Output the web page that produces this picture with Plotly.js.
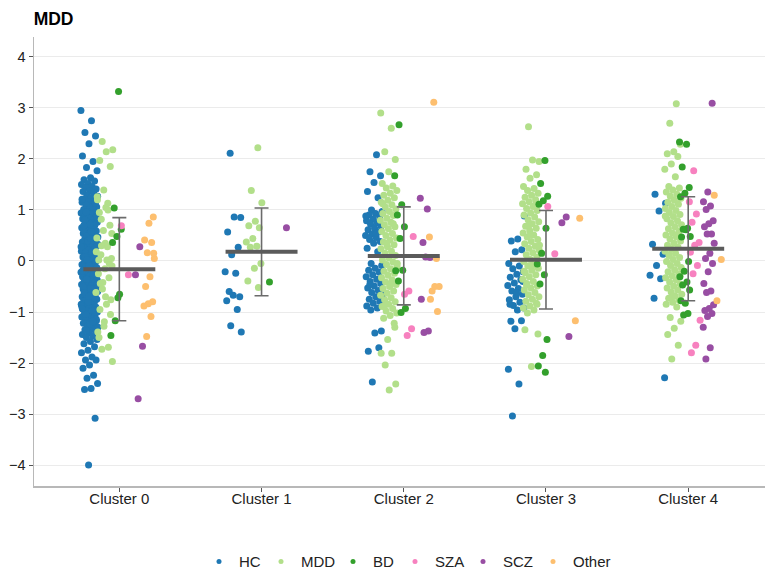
<!DOCTYPE html>
<html>
<head>
<meta charset="utf-8">
<script src="https://cdn.plot.ly/plotly-3.0.1.min.js"></script>
<style>html,body{margin:0;padding:0;background:#fff;}#chart{width:765px;height:575px;}</style>
</head>
<body>
<div id="chart"></div>
<script>
// ---------------- data ----------------
const clusters = ['Cluster 0', 'Cluster 1', 'Cluster 2', 'Cluster 3', 'Cluster 4'];
const groups = ['HC', 'MDD', 'BD', 'SZA', 'SCZ', 'Other'];

// Values per cluster (index 0..4) for each diagnostic group
const HC = [
  [2.95,2.75,2.52,2.45,2.30,2.06,1.95,1.83,1.77,1.63,1.59,1.57,1.52,1.50,1.46,1.44,1.41,1.37,1.36,1.33,1.29,1.27,1.24,1.22,1.19,1.16,1.15,1.11,1.09,1.06,1.04,1.01,0.99,0.97,0.94,0.92,0.89,0.88,0.85,0.83,0.80,0.79,0.76,0.74,0.71,0.70,0.67,0.65,0.63,0.60,0.59,0.56,0.54,0.51,0.50,0.47,0.45,0.43,0.41,0.38,0.37,0.34,0.32,0.30,0.27,0.26,0.23,0.21,0.19,0.17,0.15,0.12,0.11,0.08,0.06,0.05,0.02,0.00,-0.02,-0.03,-0.06,-0.07,-0.10,-0.11,-0.13,-0.15,-0.17,-0.18,-0.21,-0.22,-0.24,-0.26,-0.27,-0.30,-0.31,-0.33,-0.35,-0.37,-0.38,-0.41,-0.42,-0.44,-0.46,-0.48,-0.49,-0.52,-0.53,-0.55,-0.57,-0.59,-0.60,-0.63,-0.64,-0.66,-0.68,-0.70,-0.71,-0.74,-0.75,-0.77,-0.79,-0.81,-0.83,-0.85,-0.86,-0.89,-0.90,-0.92,-0.94,-0.96,-0.98,-1.00,-1.02,-1.04,-1.06,-1.09,-1.10,-1.13,-1.15,-1.17,-1.20,-1.22,-1.25,-1.27,-1.30,-1.33,-1.35,-1.38,-1.41,-1.44,-1.47,-1.50,-1.54,-1.58,-1.62,-1.68,-1.75,-1.80,-1.88,-1.94,-1.94,-2.04,-2.10,-2.24,-2.30,-2.40,-2.50,-2.52,-3.08,-4.00,
   1.21,1.07,0.96,0.86,0.72,0.61,0.49,0.39,0.28,0.18,0.09,-0.01,-0.09,-0.19,-0.28,-0.36,-0.45,-0.54,-0.62,-0.72,-0.80,-0.88,-0.97,-1.05,-1.14,-1.24,-0.50,-0.25,0.03,0.33,0.58,0.81,1.13,-0.69,-0.93,-1.18,-1.36,-0.14,0.44,0.69],
  [2.11,0.85,0.86,0.57,0.27,0.12,-0.21,-0.24,-0.60,-0.70,-0.67,-0.78,-0.95,-1.27,-1.39],
  [2.08,1.75,1.67,1.54,1.36,1.24,1.00,0.97,0.93,0.90,0.86,0.82,0.79,0.75,0.72,0.68,0.64,0.61,0.57,0.53,0.50,0.46,0.42,0.38,0.35,0.25,0.18,-0.05,-0.09,-0.14,-0.18,-0.22,-0.27,-0.31,-0.36,-0.40,-0.44,-0.49,-0.53,-0.58,-0.62,-0.66,-0.70,-0.75,-0.79,-0.83,-0.88,-0.92,-0.96,-1.37,-1.41,-1.77,-1.70,-2.37,0.88,0.55,-0.46,-0.72],
  [0.88,0.43,0.39,0.22,0.18,-0.05,-0.10,-0.15,-0.21,-0.26,-0.32,-0.37,-0.43,-0.48,-0.54,-0.59,-0.65,-0.70,-0.76,-0.81,-0.87,-0.92,-0.96,-1.18,-1.17,-1.33,-2.12,-2.41,-3.04,-0.40,-0.62,-0.85],
  [1.31,1.13,0.98,0.33,0.13,-0.09,-0.28,-0.35,-0.73,-2.29]
];
const MDD = [
  [2.34,2.18,2.14,1.97,1.85,1.39,1.26,1.13,0.82,0.54,0.35,0.02,-0.05,-0.42,0.18,0.02,-0.44,-0.76,-1.19,-1.39,-1.69,-1.73,-1.97,1.05,0.95,0.70,0.60,0.45,0.28,0.12,0.05,-0.15,-0.25,-0.33,-0.55,-0.62,-0.85,-0.95,-1.05,-1.28,1.20,1.00,0.30,-0.10,-0.70,-1.50],
  [2.22,1.38,1.14,0.78,0.69,0.65,0.44,0.37,0.29,0.27,-0.05,-0.14,-0.39,-0.52],
  [2.90,2.60,2.14,1.99,1.75,1.52,1.47,1.43,1.38,1.33,1.29,1.24,1.19,1.15,1.10,1.06,1.02,0.97,0.93,0.89,0.84,0.80,0.76,0.71,0.67,0.63,0.58,0.54,0.50,0.45,0.41,0.37,0.32,0.28,0.24,0.19,0.15,0.11,0.06,0.02,-0.02,-0.07,-0.11,-0.15,-0.20,-0.24,-0.28,-0.33,-0.37,-0.41,-0.46,-0.50,-0.54,-0.59,-0.63,-0.67,-0.72,-0.76,-0.80,-0.85,-0.89,-0.93,-0.98,-1.02,-1.07,-1.12,-1.22,-1.54,-1.81,-1.81,-2.04,-2.41,-2.53,1.12,0.73,0.35,-0.05,-0.45,-0.88,-1.30],
  [2.63,1.95,1.98,1.80,1.69,1.62,1.46,1.42,1.38,1.33,1.29,1.25,1.20,1.16,1.12,1.07,1.03,0.99,0.94,0.90,0.86,0.81,0.77,0.73,0.68,0.64,0.60,0.55,0.51,0.47,0.42,0.38,0.34,0.29,0.25,0.21,0.16,0.12,0.08,0.03,-0.01,-0.05,-0.10,-0.14,-0.18,-0.23,-0.27,-0.31,-0.36,-0.40,-0.44,-0.49,-0.53,-0.57,-0.62,-0.66,-0.70,-0.75,-0.79,-0.83,-0.88,-0.92,-0.96,-1.02,-1.43,-2.07,-1.35,1.10,0.70,0.31,-0.08,-0.47,-0.85,0.52,-0.20],
  [3.08,2.70,2.29,2.14,2.10,2.05,1.90,1.80,1.65,1.46,1.43,1.39,1.35,1.31,1.27,1.23,1.19,1.15,1.11,1.07,1.03,0.99,0.95,0.91,0.87,0.83,0.79,0.75,0.71,0.67,0.63,0.59,0.55,0.51,0.47,0.43,0.39,0.35,0.31,0.27,0.23,0.19,0.15,0.11,0.07,0.03,-0.01,-0.05,-0.09,-0.13,-0.17,-0.21,-0.25,-0.29,-0.33,-0.37,-0.41,-0.45,-0.49,-0.53,-0.57,-0.61,-0.65,-0.69,-0.73,-0.77,-0.81,-0.85,-0.90,-1.11,-1.18,-1.32,-1.44,-1.65,-1.92,0.88,0.50,0.12,-0.30,-0.68]
];
const BD = [
  [3.32,1.04,0.62,0.48,0.36,-0.65,-1.17,-1.46,-0.72],
  [-0.41],
  [2.67,1.67,1.10,0.90,0.67,0.44,-0.19,-0.18,-0.39,-0.93,-1.01],
  [1.97,1.52,1.27,1.18,1.11,0.64,0.15,-0.06,-0.27,-0.45,-1.54,-1.85,-2.06,-2.18],
  [2.33,2.29,1.84,1.44,1.33,1.26,0.64,0.62,0.48,0.61,0.47,-0.01,-0.20,-0.31,-0.41,-0.47,-0.57,-0.83,-0.78,-1.03,-1.06]
];
const SZA = [
  [0.69,-0.27],
  [],
  [0.48,-0.59,-0.65,-1.33,-1.46],
  [1.07,0.14],
  [1.77,1.16,0.92,0.76,0.36,0.31,0.17,-0.09,-0.25,-1.16,-1.65,-1.80]
];
const SCZ = [
  [0.28,-0.27,-1.67,-2.70],
  [0.65],
  [1.23,1.02,0.36,0.07,0.08,-0.75,-1.37,-1.40],
  [0.86,0.75,-1.48],
  [3.09,1.35,1.16,1.08,1.01,0.79,0.73,0.67,0.53,0.53,0.35,0.15,0.05,-0.05,-0.21,-0.44,-0.59,-0.62,-0.86,-0.93,-0.97,-1.03,-1.09,-1.30,-1.70,-1.92]
];
const Other = [
  [0.86,0.74,0.41,0.36,0.16,0.05,-0.31,-0.50,-0.80,-0.84,-0.88,-1.09,-1.48,0.15],
  [],
  [3.11,0.47,0.05,-0.59,-0.50,-0.50,-0.75,-0.99],
  [0.84,-1.17],
  [1.29,0.03,-0.78]
];
// Cluster summaries (mean and SD)
const clusterMean = [-0.16, 0.18, 0.10, 0.025, 0.24];
const clusterSD = [1.01, 0.86, 0.96, 0.965, 1.02];

// ---------------- drawing ----------------
const colors = ['#1f78b4', '#b2df8a', '#33a02c', '#f781bf', '#984ea3', '#fdbf6f'];
const series = [HC, MDD, BD, SZA, SCZ, Other];
const offsets = [-0.21, -0.105, -0.025, 0.045, 0.145, 0.21];
const offsetsC1 = [-0.2, -0.05, 0.09, 0.045, 0.15, 0.21];
const halfW = [0.06, 0.06, 0.04, 0.04, 0.04, 0.04];
// legend entry positions (px, left edge of each entry)
const legendLeft = [199, 261, 333, 395, 463, 533];

function jitter(i, g) {
  const v = i * 0.6180339887 + g * 0.3719;
  return (v - Math.floor(v)) - 0.5;
}

const traces = [];
series.forEach((arr, g) => {
  const xs = [], ys = [];
  arr.forEach((vals, c) => {
    const off = (c === 1 ? offsetsC1 : offsets)[g];
    vals.forEach((v, i) => {
      xs.push(c + off + jitter(i + c * 7, g) * 2 * halfW[g]);
      ys.push(v);
    });
  });
  traces.push({
    type: 'scatter', mode: 'markers', x: xs, y: ys, name: groups[g],
    marker: {color: colors[g], size: 7, line: {width: 0}},
    showlegend: false, hoverinfo: 'y'
  });
});

const font = 'Liberation Sans, Arial, Helvetica, sans-serif';
const layout = {
  width: 765, height: 575,
  margin: {l: 34, r: 0, t: 37, b: 89, autoexpand: false},
  paper_bgcolor: '#ffffff', plot_bgcolor: '#ffffff',
  font: {family: font, size: 15, color: '#333333'},
  title: {text: '<b>MDD</b>', font: {family: font, size: 17.5, color: '#000000'},
          xref: 'container', yref: 'container', x: 0.044, xanchor: 'left', y: 0.968, yanchor: 'middle'},
  xaxis: {
    range: [-0.6, 4.54], tickmode: 'array', tickvals: [0, 1, 2, 3, 4], ticktext: clusters,
    showgrid: false, zeroline: false, showline: true, linecolor: '#b8b8b8', linewidth: 1.5,
    ticks: 'outside', ticklen: 4, tickcolor: '#555555', tickwidth: 1, ticklabelstandoff: -6,
    tickfont: {family: font, size: 15, color: '#222222'}
  },
  yaxis: {
    range: [-4.41, 4.39], tickmode: 'array', tickvals: [-4, -3, -2, -1, 0, 1, 2, 3, 4],
    showgrid: true, gridcolor: '#ebebeb', gridwidth: 1, zeroline: false,
    showline: true, linecolor: '#b8b8b8', linewidth: 1.5,
    ticks: 'outside', ticklen: 4, tickcolor: '#555555', tickwidth: 1,
    tickfont: {family: font, size: 14.5, color: '#222222'}
  },
  showlegend: true
};

// legend-only entries with small symbols, one legend box per entry
groups.forEach((name, g) => {
  const key = g === 0 ? 'legend' : 'legend' + (g + 1);
  traces.push({
    type: 'scatter', mode: 'markers', x: [null], y: [null], name: name,
    marker: {color: colors[g], size: 5}, showlegend: true, legend: key
  });
  layout[key] = {
    orientation: 'h', xref: 'container', yref: 'container',
    x: legendLeft[g] / 765, xanchor: 'left', y: 0.023, yanchor: 'middle',
    font: {family: font, size: 15, color: '#222222'}, bgcolor: 'rgba(0,0,0,0)'
  };
});

// error bars (mean ± SD)
traces.push({
  type: 'scatter', mode: 'markers',
  x: clusters.map((_, i) => i), y: clusterMean,
  marker: {size: 0.1, color: 'rgba(0,0,0,0)'},
  error_y: {type: 'data', array: clusterSD, visible: true, color: '#6b6b6b', thickness: 1.6, width: 7},
  showlegend: false, hoverinfo: 'skip'
});
// mean lines
const mx = [], my = [];
clusterMean.forEach((m, i) => { mx.push(i - 0.253, i + 0.253, null); my.push(m, m, null); });
traces.push({
  type: 'scatter', mode: 'lines', x: mx, y: my,
  line: {color: '#5b5b5b', width: 4},
  showlegend: false, hoverinfo: 'skip'
});

Plotly.newPlot('chart', traces, layout, {displayModeBar: false, staticPlot: true});
</script>
</body>
</html>
